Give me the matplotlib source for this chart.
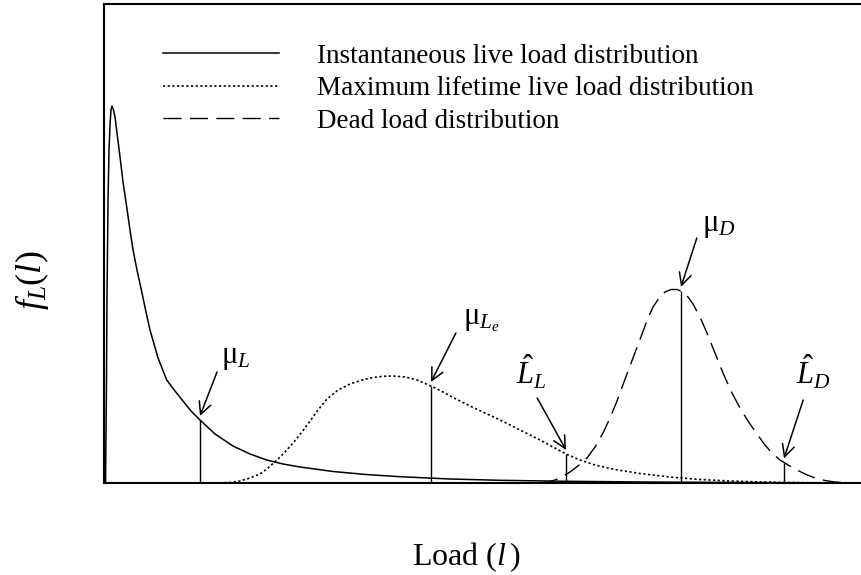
import numpy as np
import matplotlib
matplotlib.use("Agg")
import matplotlib.pyplot as plt

plt.rcParams["font.family"] = ["Liberation Serif", "DejaVu Serif"]
plt.rcParams["mathtext.fontset"] = "custom"
plt.rcParams["mathtext.rm"] = "Liberation Serif"
plt.rcParams["mathtext.it"] = "Liberation Serif:italic"

# --- curves (load, density) ---
inst_x = [0.020, 0.033, 0.039, 0.053, 0.066, 0.079, 0.092, 0.105, 0.125, 0.145, 0.171,
          0.211, 0.250, 0.299, 0.342, 0.382, 0.434, 0.500, 0.553, 0.605, 0.711, 0.825,
          0.934, 1.039, 1.145, 1.263, 1.461, 1.697, 1.921, 2.141, 2.355, 2.579, 3.013,
          3.447, 3.895, 4.553, 5.211, 6.0, 7.053, 8.632, 10.0]
inst_y = [0.0, 1.03, 1.83, 2.83, 3.33, 3.58, 3.73, 3.77, 3.73, 3.66, 3.50,
          3.26, 3.01, 2.76, 2.53, 2.33, 2.13, 1.90, 1.71, 1.53, 1.25, 1.03,
          0.92, 0.82, 0.72, 0.63, 0.49, 0.37, 0.29, 0.23, 0.19, 0.16, 0.115,
          0.085, 0.063, 0.04, 0.027, 0.018, 0.01, 0.004, 0.001]

life_x = [1.461, 1.658, 1.789, 1.921, 2.053, 2.158, 2.276, 2.382, 2.487, 2.605, 2.711,
          2.816, 2.934, 3.079, 3.237, 3.395, 3.539, 3.671, 3.803, 3.961, 4.118, 4.303,
          4.461, 4.632, 4.816, 5.013, 5.211, 5.474, 5.737, 5.908, 6.079, 6.263, 6.461,
          6.724, 7.053, 7.447, 7.842, 8.237, 8.632, 9.158, 10.0]
life_y = [0.0, 0.005, 0.02, 0.05, 0.09, 0.15, 0.23, 0.31, 0.40, 0.51, 0.62,
          0.73, 0.84, 0.93, 0.99, 1.03, 1.055, 1.067, 1.07, 1.06, 1.03, 0.97,
          0.91, 0.84, 0.77, 0.70, 0.63, 0.53, 0.43, 0.36, 0.29, 0.23, 0.18,
          0.135, 0.095, 0.06, 0.035, 0.02, 0.01, 0.003, 0.0]

dead_x = [5.737, 5.842, 5.934, 6.026, 6.132, 6.237, 6.355, 6.461, 6.566, 6.658, 6.750,
          6.842, 6.921, 7.0, 7.079, 7.158, 7.224, 7.303, 7.382, 7.461, 7.539, 7.618,
          7.684, 7.750, 7.842, 7.934, 8.039, 8.145, 8.250, 8.368, 8.474, 8.592, 8.697,
          8.803, 8.895, 9.0, 9.105, 9.224, 9.355, 9.487, 9.618, 9.816, 10.0]
dead_y = [0.0, 0.01, 0.03, 0.06, 0.11, 0.17, 0.25, 0.36, 0.50, 0.65, 0.82,
          1.01, 1.17, 1.33, 1.49, 1.65, 1.76, 1.85, 1.91, 1.935, 1.935, 1.91,
          1.86, 1.79, 1.66, 1.50, 1.30, 1.10, 0.92, 0.75, 0.62, 0.49, 0.38,
          0.29, 0.23, 0.18, 0.135, 0.09, 0.05, 0.025, 0.01, 0.0, 0.0]

# marked values: position, curve height, label, label pos, arrow tail
mark_names = ["$\\mathrm{\u03bc}_L$", "$\\mathrm{\u03bc}_{L_e}$", "$\\hat{L}_L$",
              "$\\mathrm{\u03bc}_D$", "$\\hat{L}_D$"]
mark_x = [1.263, 4.303, 6.079, 7.592, 8.947]
mark_y = [0.63, 0.97, 0.29, 1.92, 0.205]
label_x = [1.74, 4.97, 5.62, 8.09, 9.33]
label_y = [1.26, 1.63, 1.11, 2.57, 1.11]
tail_x = [1.487, 4.63, 5.70, 7.80, 9.20]
tail_y = [1.11, 1.50, 0.85, 2.45, 0.83]

fig = plt.figure(figsize=(8.62, 5.75), dpi=100)
ax = fig.add_axes([104 / 862, 92 / 575, 760 / 862, 479 / 575])

ax.plot(inst_x, inst_y, color="black", lw=1.1, label="Instantaneous live load distribution")
ax.plot(life_x, life_y, color="black", lw=1.2, linestyle=(0, (1.3, 1.5)),
        label="Maximum lifetime live load distribution")
ax.plot(dead_x, dead_y, color="black", lw=1.0, linestyle=(0, (13, 6)),
        label="Dead load distribution")

ax.vlines(mark_x, 0, mark_y, color="black", lw=1.0)
for name, mx, my, lx, ly, tx, ty in zip(mark_names, mark_x, mark_y, label_x, label_y, tail_x, tail_y):
    ax.annotate("", xy=(mx, my + 0.04), xytext=(tx, ty),
                arrowprops=dict(arrowstyle="->", color="black", lw=1.1, mutation_scale=22,
                                shrinkA=0, shrinkB=0))
    ax.text(lx, ly, name, fontsize=22, ha="center", va="center")

ax.set_xlim(0, 10)
ax.set_ylim(0, 4.79)
ax.set_xticks([])
ax.set_yticks([])
for side in ["left", "bottom", "top"]:
    ax.spines[side].set_linewidth(1.5)
ax.spines["right"].set_visible(False)

ax.set_xlabel("Load ($l\\,$)", fontsize=23, labelpad=41)
ax.xaxis.label.set_x(0.476)
ax.set_ylabel("$f_L(l)$", fontsize=26, labelpad=38)
ax.yaxis.label.set_y(0.424)

ax.legend(loc="upper left", bbox_to_anchor=(0.063, 0.94), frameon=False, fontsize=19.5,
          handlelength=4.3, handletextpad=1.4, labelspacing=0.28, borderaxespad=0)

fig.savefig("out.png", dpi=100)
